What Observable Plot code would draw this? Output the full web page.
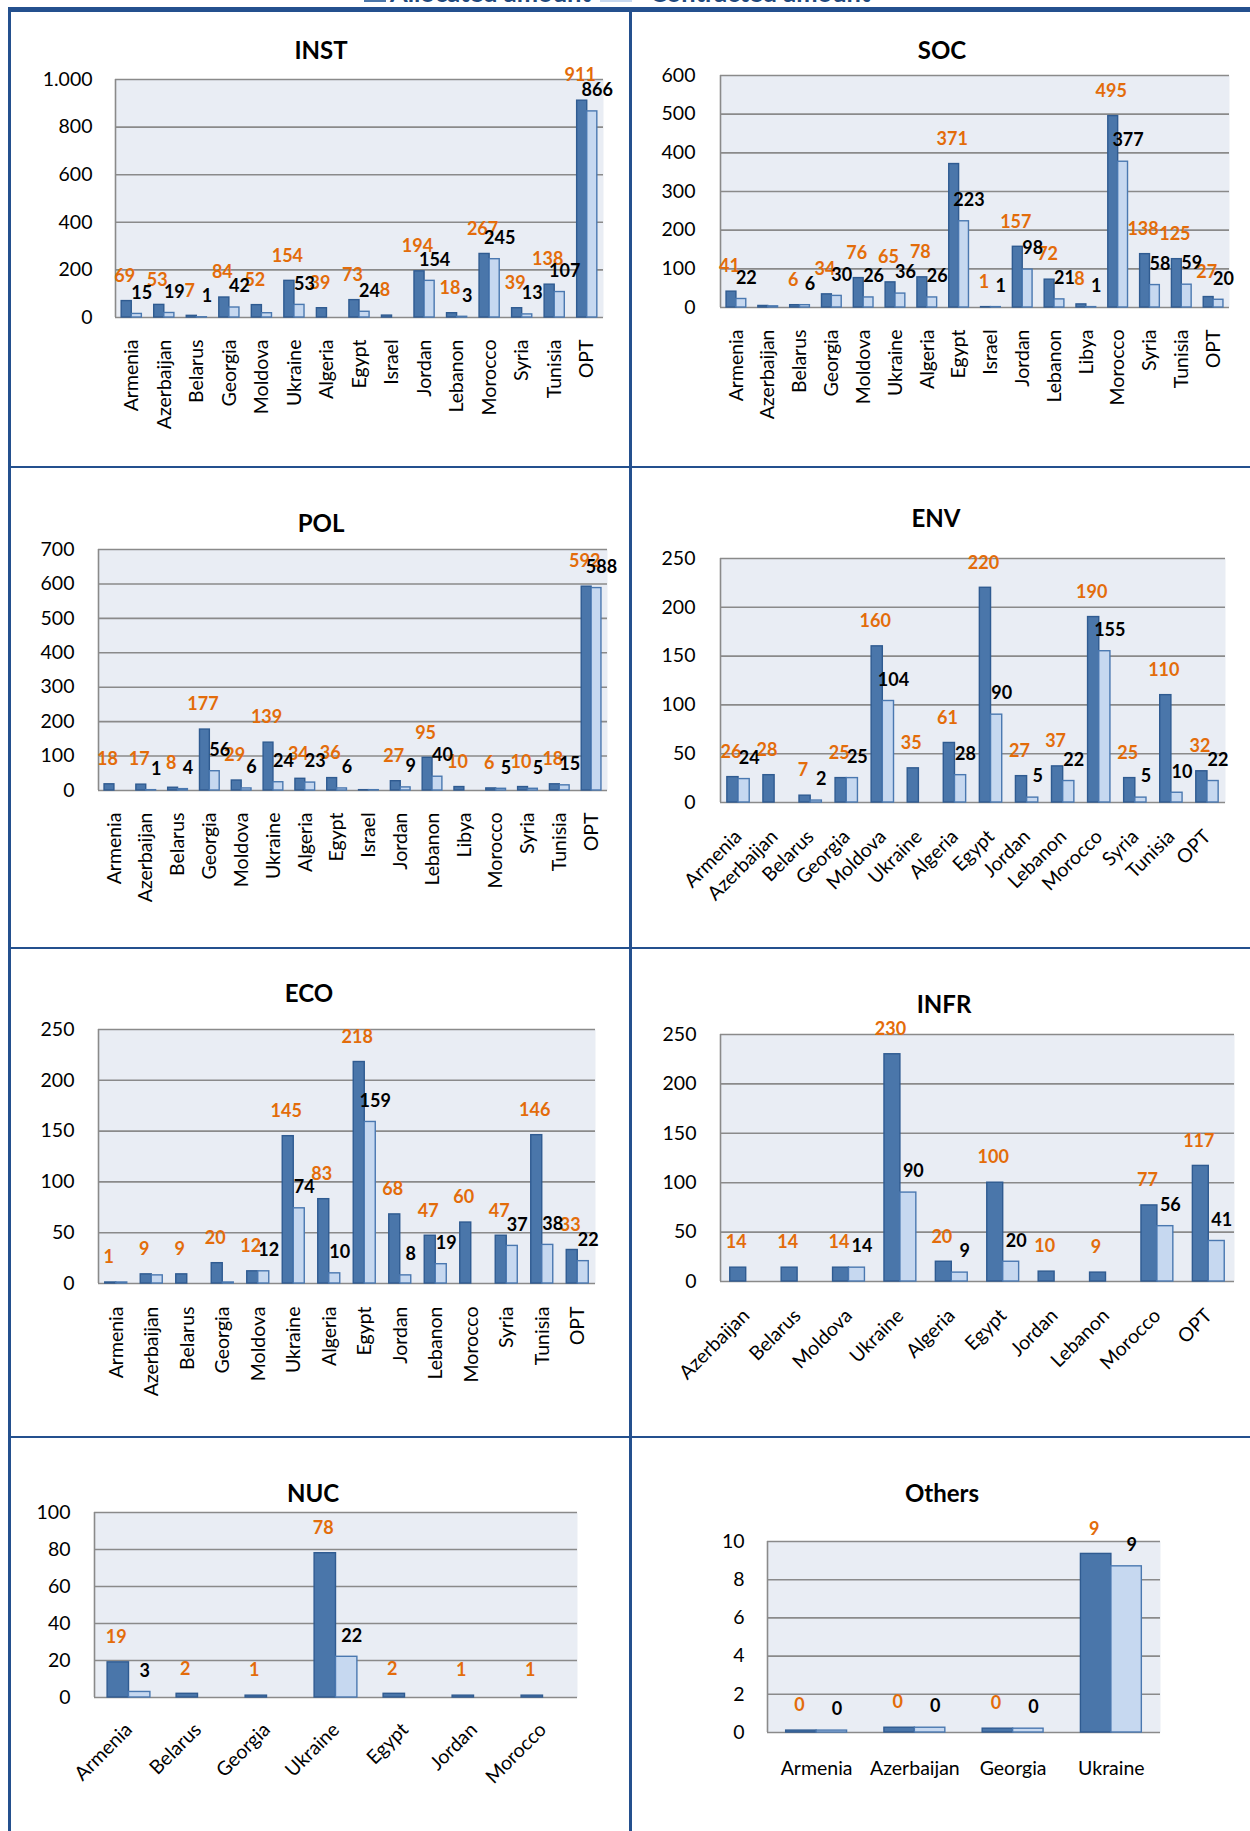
<!DOCTYPE html>
<html><head><meta charset="utf-8">
<script src="https://cdn.jsdelivr.net/npm/d3@7"></script>
<script src="https://cdn.jsdelivr.net/npm/@observablehq/plot@0.6"></script>
<style>
body{margin:0;background:#fff;width:1250px;height:1831px;position:relative;overflow:hidden;font-family:Lato,"Open Sans",sans-serif;}
.line{position:absolute;background:#24508E;z-index:5;}
.title{position:absolute;transform:translate(-50%,-50%);font-weight:bold;font-size:24px;white-space:nowrap;color:#000;}
.panel{position:absolute;}
.leg{position:absolute;font-weight:bold;font-size:25.5px;line-height:25.5px;color:#1F497D;white-space:nowrap;top:-20px;}
.mk{position:absolute;top:-10px;height:12px;}
</style></head><body>
<div class="mk" style="left:364px;width:22px;background:#4A76AA"></div>
<div class="leg" style="left:390px">Allocated amount</div>
<div class="mk" style="left:600px;width:32px;background:#C6D8F0"></div>
<div class="leg" style="left:650px">Contracted amount</div>
<div id="root"></div>
<script>
// ---------- DATA ----------
const instCountries = ["Armenia","Azerbaijan","Belarus","Georgia","Moldova","Ukraine","Algeria","Egypt","Israel","Jordan","Lebanon","Morocco","Syria","Tunisia","OPT"];
const instAllocated = [69,53,7,84,52,154,39,73,8,194,18,267,39,138,911];
const instContracted = [15,19,1,42,18,53,0,24,0,154,3,245,13,107,866];
const instTicks = [0,200,400,600,800,1000];

const socCountries = ["Armenia","Azerbaijan","Belarus","Georgia","Moldova","Ukraine","Algeria","Egypt","Israel","Jordan","Lebanon","Libya","Morocco","Syria","Tunisia","OPT"];
const socAllocated = [41,4,6,34,76,65,78,371,1,157,72,8,495,138,125,27];
const socContracted = [22,3,6,30,26,36,26,223,1,98,21,1,377,58,59,20];
const socTicks = [0,100,200,300,400,500,600];

const polCountries = ["Armenia","Azerbaijan","Belarus","Georgia","Moldova","Ukraine","Algeria","Egypt","Israel","Jordan","Lebanon","Libya","Morocco","Syria","Tunisia","OPT"];
const polAllocated = [18,17,8,177,29,139,34,36,1,27,95,10,6,10,18,592];
const polContracted = [0,1,4,56,6,24,23,6,1,9,40,0,5,5,15,588];
const polTicks = [0,100,200,300,400,500,600,700];

const envCountries = ["Armenia","Azerbaijan","Belarus","Georgia","Moldova","Ukraine","Algeria","Egypt","Jordan","Lebanon","Morocco","Syria","Tunisia","OPT"];
const envAllocated = [26,28,7,25,160,35,61,220,27,37,190,25,110,32];
const envContracted = [24,0,2,25,104,0,28,90,5,22,155,5,10,22];
const envTicks = [0,50,100,150,200,250];

const ecoCountries = ["Armenia","Azerbaijan","Belarus","Georgia","Moldova","Ukraine","Algeria","Egypt","Jordan","Lebanon","Morocco","Syria","Tunisia","OPT"];
const ecoAllocated = [1,9,9,20,12,145,83,218,68,47,60,47,146,33];
const ecoContracted = [1,8,0,1,12,74,10,159,8,19,0,37,38,22];
const ecoTicks = [0,50,100,150,200,250];

const infrCountries = ["Azerbaijan","Belarus","Moldova","Ukraine","Algeria","Egypt","Jordan","Lebanon","Morocco","OPT"];
const infrAllocated = [14,14,14,230,20,100,10,9,77,117];
const infrContracted = [0,0,14,90,9,20,0,0,56,41];
const infrTicks = [0,50,100,150,200,250];

const nucCountries = ["Armenia","Belarus","Georgia","Ukraine","Egypt","Jordan","Morocco"];
const nucAllocated = [19,2,1,78,2,1,1];
const nucContracted = [3,0,0,22,0,0,0];
const nucTicks = [0,20,40,60,80,100];

const othCountries = ["Armenia","Azerbaijan","Georgia","Ukraine"];
const othAllocated = [0.1,0.25,0.2,9.35];
const othContracted = [0.1,0.25,0.2,8.7];
const othTicks = [0,2,4,6,8,10];

// labels not shown in the original
const hiddenLabels = {
  INST: {a: [], k: ["Moldova"]},
  SOC: {a: ["Azerbaijan"], k: ["Azerbaijan"]},
  POL: {a: ["Israel"], k: ["Israel"]},
  ECO: {a: [], k: ["Armenia","Azerbaijan","Georgia"]}
};

// ---------- STYLE ----------
const DARK = "#4A76AA", DARK_EDGE = "#2F5B91";
const LIGHT = "#C6D8F0", LIGHT_EDGE = "#4A78B0";
const BG = "#E9EDF4", GRID = "#8A8A8A", ORANGE = "#E36C0A";
const euro = d3.formatLocale({decimal: ",", thousands: ".", grouping: [3], currency: ["", ""]}).format(",");

const panels = [
  {name:"INST", c:instCountries, a:instAllocated, k:instContracted, ticks:instTicks, left:12, top:50, w:616, h:415, mL:103, mR:25, mT:29, mB:148, yPad:23, xPad:22, rot:-90, tx:321, ty:49},
  {name:"SOC", c:socCountries, a:socAllocated, k:socContracted, ticks:socTicks, left:633, top:50, w:617, h:415, mL:87, mR:21, mT:25, mB:158, yPad:25, xPad:22, rot:-90, tx:942, ty:49},
  {name:"POL", c:polCountries, a:polAllocated, k:polContracted, ticks:polTicks, left:12, top:470, w:616, h:476, mL:86, mR:21, mT:79, mB:156, yPad:24, xPad:22, rot:-90, tx:321, ty:522},
  {name:"ENV", c:envCountries, a:envAllocated, k:envContracted, ticks:envTicks, left:633, top:470, w:617, h:476, mL:87, mR:25, mT:88, mB:144, yPad:25, xPad:31, rot:-45, tx:936, ty:517},
  {name:"ECO", c:ecoCountries, a:ecoAllocated, k:ecoContracted, ticks:ecoTicks, left:12, top:951, w:616, h:484, mL:86, mR:33, mT:78, mB:152, yPad:24, xPad:23, rot:-90, tx:309, ty:992},
  {name:"INFR", c:infrCountries, a:infrAllocated, k:infrContracted, ticks:infrTicks, left:633, top:951, w:617, h:484, mL:87, mR:16, mT:83, mB:154, yPad:24, xPad:31, rot:-45, tx:944, ty:1003},
  {name:"NUC", c:nucCountries, a:nucAllocated, k:nucContracted, ticks:nucTicks, left:12, top:1440, w:616, h:391, mL:82, mR:51, mT:72, mB:134, yPad:24, xPad:29, rot:-45, tx:313, ty:1492},
  {name:"Others", c:othCountries, a:othAllocated, k:othContracted, ticks:othTicks, left:633, top:1440, w:617, h:391, mL:134, mR:90, mT:101, mB:99, yPad:23, xPad:29, rot:0, tx:942, ty:1492}
];

const root = document.getElementById("root");
const W = 0.31;

for (const p of panels) {
  const n = p.c.length;
  const rows = p.c.map((c, i) => ({i, c, a: p.a[i], k: p.k[i]}));
  const hid = hiddenLabels[p.name] || {a: [], k: []};
  const xDom = [-0.5, n - 0.5];
  const ymax = p.ticks[p.ticks.length - 1];
  const svg = Plot.plot({
    width: p.w, height: p.h,
    marginLeft: p.mL, marginRight: p.mR, marginTop: p.mT, marginBottom: p.mB,
    x: {domain: xDom, axis: null},
    y: {domain: [0, ymax], axis: null},
    style: {fontFamily: "Lato, 'Open Sans', sans-serif", fontSize: "19px", background: "transparent", overflow: "visible", color: "#000"},
    marks: [
      Plot.frame({fill: BG, stroke: "none"}),
      Plot.ruleY(p.ticks, {stroke: GRID, strokeWidth: 1.6}),
      Plot.ruleX([xDom[0]], {stroke: GRID, strokeWidth: 1.6}),
      Plot.rect(rows, {x1: d => d.i - W, x2: d => d.i, y1: 0, y2: "a", fill: DARK, stroke: DARK_EDGE, strokeWidth: 1.4}),
      Plot.rect(rows, {x1: d => d.i, x2: d => d.i + W, y1: 0, y2: "k", fill: LIGHT, stroke: LIGHT_EDGE, strokeWidth: 1.4}),
      Plot.axisY({ticks: p.ticks, tickFormat: d => euro(d), tickSize: 0, tickPadding: p.yPad, fontSize: 19.5, label: null}),
      Plot.axisX({ticks: d3.range(n), tickFormat: i => p.c[i], tickSize: 0, tickPadding: p.xPad, tickRotate: p.rot, fontSize: 19.5, label: null}),
      Plot.text(rows.filter(d => d.a > 0 && !hid.a.includes(d.c)), {x: d => d.i - W / 2, y: "a", text: d => String(Math.round(d.a)), dx: -2, dy: -25, fill: ORANGE, fontWeight: "bold", fontSize: 18}),
      Plot.text(rows.filter(d => d.k > 0 && !hid.k.includes(d.c)), {x: d => d.i + W / 2, y: "k", text: d => String(Math.round(d.k)), dx: 5, dy: -21, fill: "#000", fontWeight: "bold", fontSize: 18})
    ]
  });
  const div = document.createElement("div");
  div.className = "panel";
  div.style.left = p.left + "px";
  div.style.top = p.top + "px";
  div.appendChild(svg);
  root.appendChild(div);
  const t = document.createElement("div");
  t.className = "title";
  t.style.left = p.tx + "px";
  t.style.top = p.ty + "px";
  t.textContent = p.name;
  root.appendChild(t);
}

// frame lines
const lines = [
  [8, 7, 1242, 5],     // top
  [8, 7, 3, 1824],     // left
  [629, 7, 3, 1824],   // center
  [8, 466, 1242, 2],
  [8, 947, 1242, 2],
  [8, 1436, 1242, 2]
];
for (const [x, y, w, h] of lines) {
  const l = document.createElement("div");
  l.className = "line";
  Object.assign(l.style, {left: x + "px", top: y + "px", width: w + "px", height: h + "px"});
  root.appendChild(l);
}
</script>
</body></html>
